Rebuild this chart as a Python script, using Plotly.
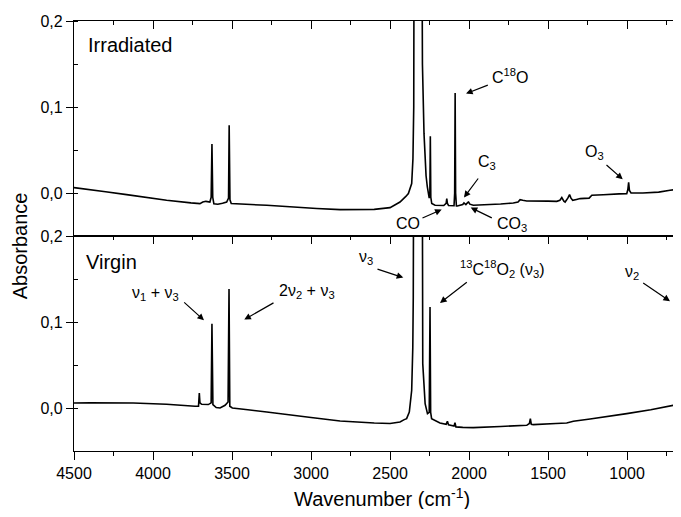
import plotly.graph_objects as go

# ---------------- data ----------------
wn_irradiated = [4500, 4300, 4167, 3914, 3760, 3703, 3685, 3665, 3640, 3632, 3627, 3622, 3615,
                 3590, 3560, 3534, 3522, 3518, 3513, 3505, 3280, 2964, 2816, 2600, 2500, 2437,
                 2400, 2384, 2363, 2355, 2350, 2347, 2300, 2295, 2285, 2272, 2264, 2252, 2248,
                 2245, 2242, 2236, 2215, 2160, 2145, 2141, 2137, 2130, 2095, 2091, 2088, 2085,
                 2080, 2074, 2040, 2032, 2020, 2008, 2003, 1995, 1973, 1800, 1720, 1690, 1677,
                 1660, 1635, 1500, 1445, 1425, 1413, 1400, 1392, 1375, 1364, 1355, 1344, 1320,
                 1297, 1240, 1223, 1150, 1050, 1002, 995, 990, 985, 975, 900, 800, 728, 700,
                 684, 676, 674, 665]
abs_irradiated = [0.0063, 0.0015, -0.0019, -0.0085, -0.0115, -0.0123, -0.0105, -0.0097, -0.0105,
                  -0.005, 0.057, -0.005, -0.0125, -0.0131, -0.012, -0.0105, -0.006, 0.0787,
                  -0.008, -0.0123, -0.0143, -0.0181, -0.0193, -0.019, -0.017, -0.0105, -0.004,
                  -0.0007, 0.011, 0.04, 0.1, 0.4, 0.4, 0.15, 0.069, 0.02, 0.007, -0.006, 0.0,
                  0.066, -0.005, -0.0123, -0.0143, -0.0145, -0.012, -0.0065, -0.012, -0.0145,
                  -0.0148, 0.0, 0.1163, 0.0, -0.015, -0.0151, -0.0135, -0.0116, -0.0135, -0.011,
                  -0.0105, -0.013, -0.0143, -0.0128, -0.0116, -0.0105, -0.0077, -0.0085, -0.0093,
                  -0.0095, -0.0097, -0.0085, -0.0053, -0.0095, -0.0105, -0.006, -0.0019, -0.006,
                  -0.0085, -0.0075, -0.0065, -0.006, -0.0027, -0.002, -0.001, -0.0007, 0.004,
                  0.0124, 0.003, 0.0, 0.0, 0.001, 0.0031, 0.004, 0.0055, 0.009, 0.199, 0.199]

wn_virgin = [4500, 4400, 4125, 3914, 3734, 3712, 3707, 3703, 3692, 3650, 3632, 3627, 3621, 3600,
             3576, 3544, 3525, 3519, 3514, 3498, 3400, 3280, 3000, 2816, 2600, 2500, 2437, 2410,
             2395, 2378, 2363, 2356, 2353, 2349, 2297, 2293, 2278, 2263, 2252, 2247, 2243, 2237,
             2184, 2145, 2137, 2130, 2095, 2089, 2083, 2040, 1973, 1800, 1635, 1618, 1612, 1606,
             1593, 1450, 1382, 1340, 1234, 1002, 850, 707, 684, 676, 674, 665]
abs_virgin = [0.0058, 0.006, 0.0058, 0.0043, 0.002, 0.002, 0.0174, 0.006, 0.0043, 0.004, 0.006,
              0.098, 0.004, 0.0005, 0.0, 0.0031, 0.007, 0.1384, 0.002, 0.0, -0.002, -0.0047,
              -0.011, -0.0151, -0.0175, -0.0181, -0.0163, -0.0135, -0.0124, -0.0047, 0.0206, 0.07,
              0.129, 0.4, 0.4, 0.0516, 0.0051, -0.0065, -0.005, 0.1174, -0.005, -0.0124, -0.0174,
              -0.019, -0.0155, -0.0195, -0.021, -0.017, -0.022, -0.0225, -0.0228, -0.0215,
              -0.0201, -0.018, -0.0124, -0.019, -0.0193, -0.018, -0.0174, -0.0155, -0.0128,
              -0.0065, -0.002, 0.0031, 0.006, 0.011, 0.199, 0.199]

x_range = [4500, 665]
y_range = [-0.05, 0.2]

# ---------------- figure ----------------
# The page body has an 8 px margin, so the figure is drawn smaller and
# all screen positions below are shifted by that offset.
OFF = 8
FONT = "Arial, 'Liberation Sans', sans-serif"
W, H = 681 - OFF, 517 - 2 * OFF
ML, MR, MT = 74 - OFF, 1, 20.7 - OFF
MB = H - MT - 430
PW, PH = W - ML - MR, H - MT - MB

def px(x):
    return (x - OFF - ML) / PW

def py(y):
    return (H - MB - (y - OFF)) / PH

fig = go.Figure()
fig.add_trace(go.Scatter(x=wn_irradiated, y=abs_irradiated, mode="lines",
                         line=dict(color="black", width=1.6, simplify=False), xaxis="x",
                         yaxis="y", showlegend=False, hoverinfo="skip"))
fig.add_trace(go.Scatter(x=wn_virgin, y=abs_virgin, mode="lines",
                         line=dict(color="black", width=1.6, simplify=False), xaxis="x2",
                         yaxis="y2", showlegend=False, hoverinfo="skip"))
fig.add_trace(go.Scatter(x=[None], y=[None], xaxis="x3", yaxis="y2", showlegend=False,
                         hoverinfo="skip"))

common_x = dict(range=x_range, autorange=False, tickmode="linear", tick0=0, dtick=500,
                tickformat="d", showline=True, linecolor="black", linewidth=1.3,
                tickcolor="black", tickwidth=1.3, showgrid=False, zeroline=False)
common_y = dict(range=y_range, autorange=False, tickmode="linear", tick0=0, dtick=0.1,
                tickformat=".1f", showline=True, linecolor="black", linewidth=1.3,
                tickcolor="black", tickwidth=1.3, showgrid=False, zeroline=False,
                ticks="outside", ticklen=7,
                minor=dict(tickmode="linear", tick0=0, dtick=0.05, ticks="inside", ticklen=4,
                           tickcolor="black", tickwidth=1.3),
                tickfont=dict(size=16, color="black", family=FONT))

fig.update_layout(
    width=W, height=H,
    margin=dict(l=ML, r=MR, t=MT, b=MB, autoexpand=False),
    paper_bgcolor="white", plot_bgcolor="white",
    separators=",.",
    font=dict(family=FONT, color="black"),
    xaxis=dict(common_x, anchor="y", side="top", ticks="inside", ticklen=8,
               showticklabels=False, mirror=True,
               minor=dict(tickmode="linear", tick0=0, dtick=250, ticks="inside", ticklen=4,
                          tickcolor="black", tickwidth=1.3)),
    xaxis2=dict(common_x, anchor="y2", side="bottom", ticks="outside", ticklen=8,
                tickfont=dict(size=16, color="black", family=FONT),
                minor=dict(tickmode="linear", tick0=0, dtick=250, ticks="outside", ticklen=4,
                           tickcolor="black", tickwidth=1.3)),
    xaxis3=dict(common_x, anchor="y2", overlaying="x2", side="top", ticks="inside", ticklen=8,
                showticklabels=False,
                minor=dict(tickmode="linear", tick0=0, dtick=250, ticks="inside", ticklen=4,
                           tickcolor="black", tickwidth=1.3)),
    yaxis=dict(common_y, anchor="x", domain=[0.5, 1]),
    yaxis2=dict(common_y, anchor="x2", domain=[0, 0.5]),
)

ann = []
def text(x, y, s, size=16, xanchor="center"):
    ann.append(dict(xref="paper", yref="paper", x=px(x), y=py(y), text=s, showarrow=False,
                    xanchor=xanchor, yanchor="middle",
                    font=dict(size=size, color="black", family=FONT)))

def arrow(tx, ty, hx, hy):
    ann.append(dict(xref="paper", yref="paper", x=px(hx), y=py(hy), ax=tx - hx, ay=ty - hy,
                    axref="pixel", ayref="pixel", text="", showarrow=True, arrowhead=2,
                    arrowsize=1.1, arrowwidth=1.2, arrowcolor="black", standoff=0,
                    startstandoff=0))

# panel names
text(86, 45, "Irradiated", size=20, xanchor="left")
text(84, 261.7, "Virgin", size=20, xanchor="left")

# top labels
text(510, 76, "C<sup>18</sup>O")
arrow(489.3, 84.3, 466, 93.3)
text(486.7, 162, "C<sub>3</sub>")
arrow(479.3, 176.7, 464, 197.3)
text(407.5, 223, "CO")
arrow(421, 218.3, 441.7, 209.3)
text(511.7, 224.5, "CO<sub>3</sub>")
arrow(493.3, 218.3, 470.7, 207.3)
text(594, 152, "O<sub>3</sub>")
arrow(605, 163.3, 622.7, 179)

# bottom labels
text(155, 293, "ν<sub>1</sub> + ν<sub>3</sub>")
arrow(182.7, 300.7, 204, 320)
text(307.2, 291, "2ν<sub>2</sub> + ν<sub>3</sub>")
arrow(275, 301.7, 244.3, 319.3)
text(365.7, 257, "ν<sub>3</sub>")
arrow(376, 268.3, 403.3, 277.3)
text(502.5, 268.3, "<sup>13</sup>C<sup>18</sup>O<sub>2</sub> (ν<sub>3</sub>)")
arrow(468.3, 280.7, 440, 302.7)
text(631.7, 272, "ν<sub>2</sub>")
arrow(641.7, 281.7, 670, 301)

# axis titles
ann.append(dict(xref="paper", yref="paper", x=px(20), y=py(246), text="Absorbance",
                showarrow=False, textangle=-90, xanchor="center", yanchor="middle",
                font=dict(size=20, color="black", family=FONT)))
ann.append(dict(xref="paper", yref="paper", x=px(381.5), y=py(497),
                text="Wavenumber (cm<sup>-1</sup>)", showarrow=False,
                xanchor="center", yanchor="middle",
                font=dict(size=20, color="black", family=FONT)))

fig.update_layout(annotations=ann)
fig.write_html("out.html")
